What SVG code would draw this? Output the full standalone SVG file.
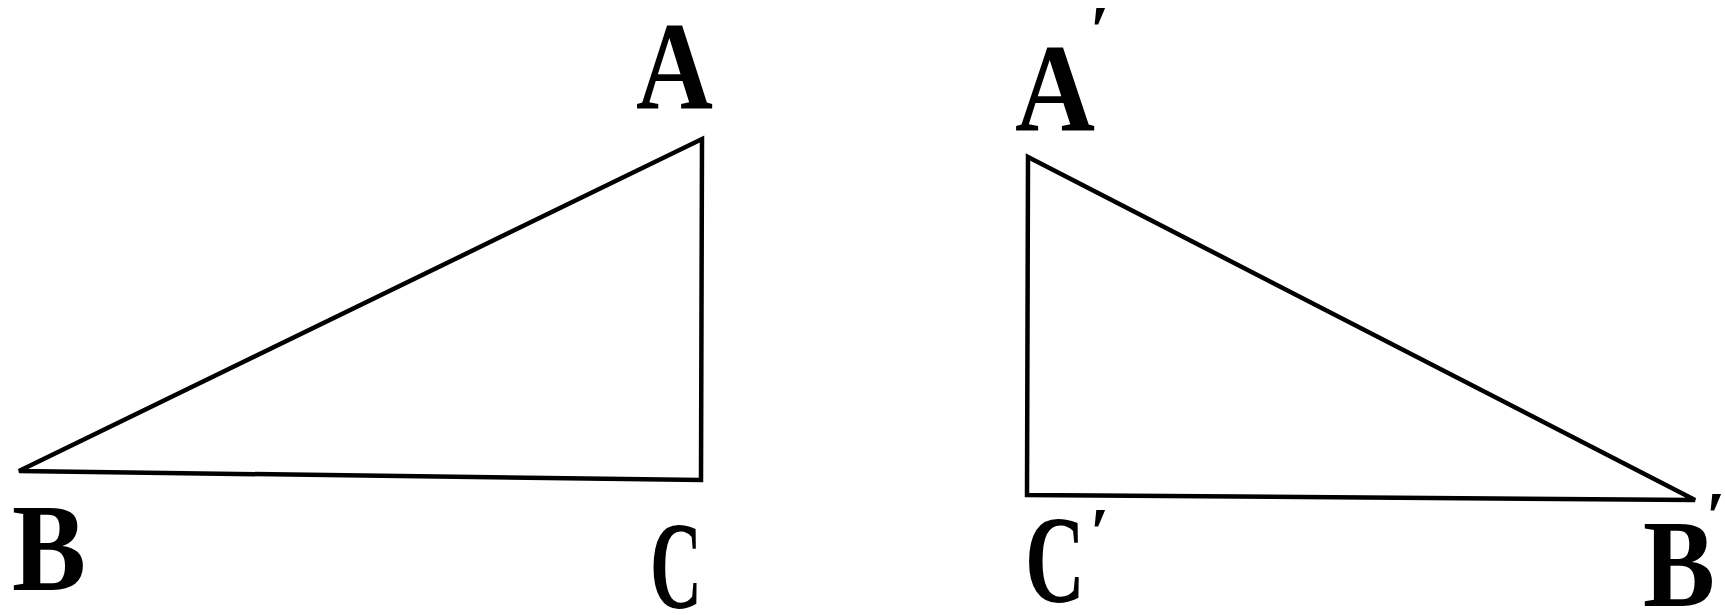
<svg xmlns="http://www.w3.org/2000/svg" width="1725" height="615" viewBox="0 0 1725 615">
<style>
.edge{fill:none;stroke:#000;stroke-width:4.5;stroke-linejoin:miter}
.lbl{font-family:"Liberation Serif","Times New Roman",serif;font-weight:bold;font-size:124px;fill:#000}
.pr{font-size:70px;font-weight:bold}
</style>
<rect width="1725" height="615" fill="#fff"/>
<g id="connectors">
<path class="edge" d="M19,471 L702,139 L701,480 Z"/>
<path class="edge" d="M1028,157 L1695,500 L1027,495 Z"/>
</g>
<g id="node-A"><text class="lbl"><tspan x="636" y="108" textLength="77" lengthAdjust="spacingAndGlyphs">A</tspan></text></g>
<g id="node-B"><text class="lbl"><tspan x="12" y="590" textLength="74" lengthAdjust="spacingAndGlyphs">B</tspan></text></g>
<g id="node-C"><text class="lbl"><tspan x="650" y="608" textLength="52" lengthAdjust="spacingAndGlyphs">C</tspan></text></g>
<g id="node-A2"><text class="lbl"><tspan x="1015" y="130" textLength="80" lengthAdjust="spacingAndGlyphs">A</tspan><tspan class="pr" x="1090" y="54">′</tspan></text></g>
<g id="node-C2"><text class="lbl"><tspan x="1025" y="602" textLength="60" lengthAdjust="spacingAndGlyphs">C</tspan><tspan class="pr" x="1090" y="556">′</tspan></text></g>
<g id="node-B2"><text class="lbl"><tspan x="1643" y="606" textLength="72" lengthAdjust="spacingAndGlyphs">B</tspan><tspan class="pr" x="1706" y="540">′</tspan></text></g>
</svg>
